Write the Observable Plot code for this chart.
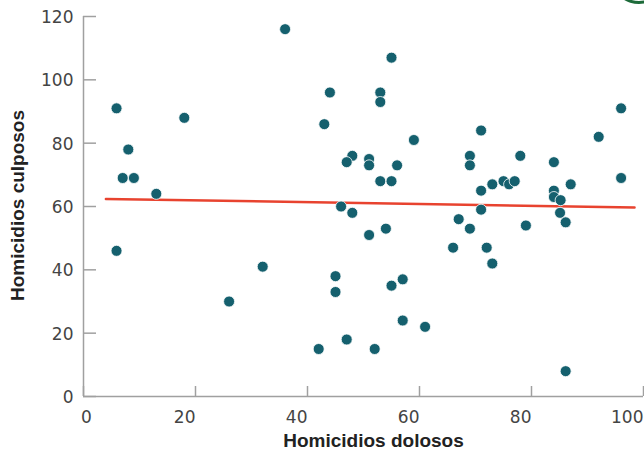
<!DOCTYPE html>
<html><head><meta charset="utf-8">
<script src="https://cdn.jsdelivr.net/npm/d3@7"></script>
<script src="https://cdn.jsdelivr.net/npm/@observablehq/plot@0.6"></script>
<style>
body{margin:0;background:#fff;}
#chart{position:relative;width:644px;height:449px;overflow:hidden;}
#logo{position:absolute;left:616px;top:-30px;width:40px;height:28px;border-radius:50%;border:3px solid #1d6b3a;}
</style></head><body><div id="chart"><div id="logo"></div></div>
<script>
const dolosos  = [5.9, 18, 8, 7, 9, 13, 5.9, 36, 55, 44, 53, 53, 43, 59, 48, 47, 51, 51, 56, 53, 55, 46, 48, 51, 54, 32, 26, 45, 45, 55, 57, 57, 61, 47, 42, 52, 96, 92, 71, 69, 69, 78, 84, 96, 87, 73, 75, 76, 77, 71, 84, 84, 85.2, 71, 85.1, 67, 86.1, 69, 79, 66, 72, 73, 86.1];
const culposos = [91, 88, 78, 69, 69, 64, 46, 116, 107, 96, 96, 93, 86, 81, 76, 74, 75, 73, 73, 68, 68, 60, 58, 51, 53, 41, 30, 38, 33, 35, 37, 24, 22, 18, 15, 15, 91, 82, 84, 76, 73, 76, 74, 69, 67, 67, 68, 67, 68, 65, 65, 63, 62, 59, 58, 56, 55, 53, 54, 47, 47, 42, 8];
const xTicks = [0, 20, 40, 60, 80, 100];
const yTicks = [0, 20, 40, 60, 80, 100, 120];
const trendX = [4, 98.4];
const trendY = [62.4, 59.7];
const xTitle = "Homicidios dolosos";
const yTitle = "Homicidios culposos";

const points = dolosos.map((d, i) => ({x: d, y: culposos[i]}));
const trend = trendX.map((d, i) => ({x: d, y: trendY[i]}));
const axisColor = "#a0a0a0";
const textColor = "#444";

const plot = Plot.plot({
  width: 644, height: 449,
  marginLeft: 83, marginRight: 1, marginTop: 16, marginBottom: 53,
  x: {domain: [0, 100]},
  y: {domain: [0, 120]},
  style: {fontFamily: "DejaVu Sans", background: "#fff", overflow: "visible"},
  marks: [
    Plot.ruleX([0], {stroke: axisColor, strokeWidth: 1.5}),
    Plot.ruleY([0], {stroke: axisColor, strokeWidth: 1.5}),
    Plot.axisY(yTicks, {tickSize: -13, tickFormat: () => "", stroke: axisColor, strokeWidth: 1.5, label: null}),
    Plot.axisY(yTicks, {tickSize: 0, tickPadding: 10, fontSize: 17, fill: textColor, label: null, dy: 1}),
    Plot.axisX(xTicks, {tickSize: -10, tickFormat: () => "", stroke: axisColor, strokeWidth: 1.5, label: null}),
    Plot.axisX(xTicks.slice(1), {tickSize: 0, tickPadding: 14, fontSize: 17, fill: textColor, textAnchor: "end", label: null}),
    Plot.axisX(xTicks.slice(0, 1), {tickSize: 0, tickPadding: 14, fontSize: 17, fill: textColor, textAnchor: "middle", dx: 3, label: null}),
    Plot.text([xTitle], {frameAnchor: "bottom", lineAnchor: "bottom", dy: 50, dx: 10, fontSize: 19, fontWeight: "bold", fontFamily: "Liberation Sans", fill: "#222"}),
    Plot.text([yTitle], {frameAnchor: "left", textAnchor: "middle", rotate: -90, dx: -66, dy: -1, fontSize: 19, fontWeight: "bold", fontFamily: "Liberation Sans", fill: "#222"}),
    Plot.line(trend, {x: "x", y: "y", stroke: "#e8432f", strokeWidth: 2.5}),
    Plot.dot(points, {x: "x", y: "y", r: 5.5, fill: "#15606e", stroke: "white", strokeWidth: 0.8})
  ]
});
document.getElementById("chart").appendChild(plot);
</script>
</body></html>
